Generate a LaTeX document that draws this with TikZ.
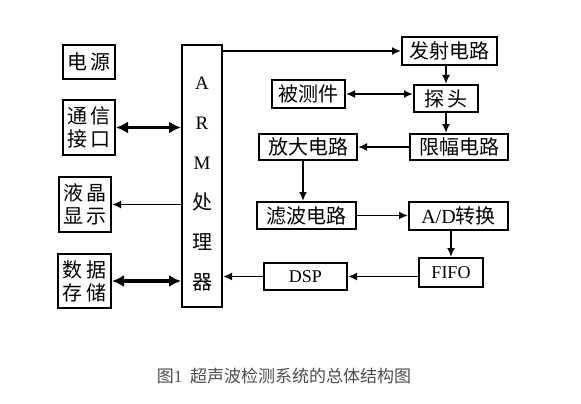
\documentclass[tikz,border=0pt]{standalone}
\usepackage{fontspec}
\setmainfont{Liberation Serif}
\newfontfamily\cjk{Noto Sans CJK SC}
\usetikzlibrary{positioning, arrows.meta}
\tikzstyle{bx}=[%
      rectangle, draw=black, line width=2pt, fill=none,
      inner sep=0pt, align=center, font=\cjk\fontsize{20}{23}\selectfont
]
\tikzstyle{ln}=[%
      line width=1.8pt, -{Latex[length=9pt,width=8pt]}
]
\tikzstyle{bus}=[%
      line width=3.5pt, {Latex[length=12pt,width=12pt]}-{Latex[length=12pt,width=12pt]}
]

\begin{document}
\begin{tikzpicture}[x=1pt, y=-1pt]
    \useasboundingbox (0,0) rectangle (581,404);

    % left column
    \node[bx, minimum width=52pt, minimum height=34pt] (dy)  at (89,62)    {电\,源};
    \node[bx, minimum width=52pt, minimum height=55pt] (tx)  at (89,127.5) {通\,信\\接\,口};
    \node[bx, minimum width=52pt, minimum height=55pt] (yj)  at (85,204.5) {液\,晶\\显\,示};
    \node[bx, minimum width=53pt, minimum height=54pt] (sj)  at (84.5,281) {数\,据\\存\,储};

    % processor
    \node[bx, minimum width=40pt, minimum height=262pt,
          label={[yshift=-8pt, align=center, font=\cjk\fontsize{20}{40}\selectfont]center:
          {\rmfamily\fontsize{19}{40}\selectfont A}\\{\rmfamily\fontsize{19}{40}\selectfont R}\\{\rmfamily\fontsize{19}{40}\selectfont M}\\处\\理\\器}]
          (arm) at (202,176) {};

    % signal chain
    \node[bx, minimum width=95pt, minimum height=28pt] (fs)  at (449.5,51)  {发射电路};
    \node[bx, minimum width=64pt, minimum height=27pt] (tt)  at (446,98.5)  {探\,头};
    \node[bx, minimum width=73pt, minimum height=28pt] (bc)  at (308.5,94)  {被测件};
    \node[bx, minimum width=98pt, minimum height=26pt] (xf)  at (459,147)   {限幅电路};
    \node[bx, minimum width=98pt, minimum height=26pt] (fd)  at (308,147)   {放大电路};
    \node[bx, minimum width=99pt, minimum height=27pt] (lb)  at (306.5,215.5) {滤波电路};
    \node[bx, minimum width=99pt, minimum height=28pt] (ad)  at (458.5,216) {{\rmfamily A/D}转换};
    \node[bx, minimum width=64pt, minimum height=29pt,
          font=\rmfamily\fontsize{18}{20}\selectfont] (ff)  at (451,272.5) {FIFO};
    \node[bx, minimum width=83pt, minimum height=27pt,
          font=\rmfamily\fontsize{18}{20}\selectfont] (dsp) at (305.5,276.5) {DSP};

    \node[font=\cjk\fontsize{17}{20}\selectfont, text=black!70] (cap) at (284,376)
          {图{\rmfamily 1}\ \ 超声波检测系统的总体结构图};

    % connections
    \draw[bus] (tx.east) -- (tx.east -| arm.west);
    \draw[bus] (sj.east) -- (sj.east -| arm.west);
    \draw[ln] (arm.west |- yj.east) -- (yj.east);
    \draw[ln] (arm.east |- fs.west) -- (fs.west);
    \draw[ln] (tt.north |- fs.south) -- (tt.north);
    \draw[ln, {Latex[length=9pt,width=8pt]}-{Latex[length=9pt,width=8pt]}] (bc.east) -- (bc.east -| tt.west);
    \draw[ln] (tt.south) -- (tt.south |- xf.north);
    \draw[ln] (xf.west) -- (fd.east);
    \draw[ln] ([xshift=-5pt]fd.south) -- ([xshift=-5pt]fd.south |- lb.north);
    \draw[ln] (lb.east) -- (lb.east -| ad.west);
    \draw[ln] (ff.north |- ad.south) -- (ff.north);
    \draw[ln] (dsp.east -| ff.west) -- (dsp.east);
    \draw[ln] (dsp.west) -- (dsp.west -| arm.east);

\end{tikzpicture}
\end{document}
